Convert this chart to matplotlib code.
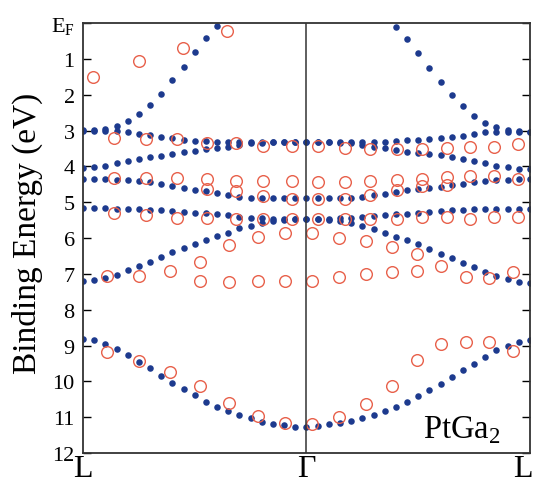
import numpy as np
import matplotlib
matplotlib.use("Agg")
from matplotlib import pyplot as plt
from matplotlib.transforms import ScaledTranslation

plt.rcParams["font.family"] = ["Liberation Serif", "DejaVu Serif"]
plt.rcParams["mathtext.fontset"] = "custom"
plt.rcParams["mathtext.rm"] = "Liberation Serif"

# calculated bands, 41 k-points from L through Gamma to L
k_calc = np.linspace(0.0, 1.0, 41)
nan = np.nan
band1 = [2.99, 2.99, 2.96, 2.87, 2.73, 2.54, 2.29, 1.98, 1.59, 1.23, 0.81, 0.42, 0.08,
         nan, nan, nan, nan, nan, nan, nan, nan, nan, nan, nan, nan, nan, nan, nan,
         0.10, 0.45, 0.84, 1.26, 1.64, 2.00, 2.32, 2.59, 2.80, 2.90, 2.98, 3.02, 3.04]
band2 = [3.00, 3.00, 3.00, 3.00, 3.05, 3.10, 3.13, 3.17, 3.21, 3.26, 3.28, 3.30, 3.31,
         3.32, 3.33, 3.33, 3.33, 3.33, 3.33, 3.33, 3.33, 3.33, 3.33, 3.33, 3.33, 3.33,
         3.33, 3.31, 3.29, 3.27, 3.26, 3.24, 3.22, 3.19, 3.15, 3.10, 3.05, 3.03, 3.04,
         3.05, 3.05]
band3 = [4.06, 4.03, 3.99, 3.92, 3.86, 3.80, 3.75, 3.71, 3.66, 3.61, 3.58, 3.53, 3.50,
         3.45, 3.40, 3.36, 3.34, 3.33, 3.33, 3.33, 3.33, 3.33, 3.33, 3.34, 3.36, 3.40,
         3.45, 3.50, 3.55, 3.60, 3.63, 3.66, 3.69, 3.73, 3.80, 3.86, 3.91, 3.98, 4.03,
         4.08, 4.08]
band4 = [4.34, 4.34, 4.36, 4.37, 4.39, 4.40, 4.45, 4.50, 4.54, 4.61, 4.66, 4.70, 4.75,
         4.80, 4.85, 4.87, 4.88, 4.89, 4.89, 4.89, 4.89, 4.89, 4.89, 4.88, 4.87, 4.85,
         4.80, 4.76, 4.71, 4.67, 4.63, 4.60, 4.57, 4.53, 4.48, 4.43, 4.40, 4.39, 4.38,
         4.36, 4.36]
band5 = [5.15, 5.15, 5.17, 5.18, 5.19, 5.20, 5.21, 5.22, 5.24, 5.27, 5.29, 5.31, 5.34,
         5.36, 5.40, 5.43, 5.45, 5.47, 5.47, 5.47, 5.47, 5.47, 5.46, 5.45, 5.43, 5.41,
         5.39, 5.37, 5.34, 5.32, 5.29, 5.27, 5.24, 5.22, 5.21, 5.20, 5.20, 5.20, 5.20,
         5.20, 5.20]
band6 = [7.20, 7.18, 7.12, 7.03, 6.90, 6.78, 6.67, 6.53, 6.40, 6.28, 6.17, 6.05, 5.94,
         5.85, 5.73, 5.66, 5.57, 5.52, 5.49, 5.47, 5.47, 5.48, 5.50, 5.53, 5.57, 5.66,
         5.75, 5.85, 5.96, 6.06, 6.18, 6.30, 6.45, 6.57, 6.70, 6.82, 6.95, 7.06, 7.15,
         7.22, 7.26]
band7 = [8.83, 8.85, 8.97, 9.10, 9.27, 9.47, 9.64, 9.85, 10.04, 10.22, 10.39, 10.57,
         10.71, 10.83, 10.94, 11.03, 11.13, 11.18, 11.23, 11.27, 11.28, 11.24, 11.20,
         11.17, 11.10, 11.01, 10.94, 10.83, 10.72, 10.58, 10.41, 10.25, 10.07, 9.88,
         9.69, 9.51, 9.31, 9.13, 9.01, 8.90, 8.85]
bands = [band1, band2, band3, band4, band5, band6, band7]

# ARPES peak positions (k along L-Gamma-L, binding energy in eV)
arpes_k = [0.022, 0.125, 0.224, 0.322,
           0.069, 0.141, 0.210, 0.277, 0.342, 0.403, 0.468, 0.526, 0.586, 0.642,
           0.702, 0.758, 0.814, 0.866, 0.919, 0.973,
           0.069, 0.141, 0.210, 0.277, 0.342, 0.403, 0.468, 0.526, 0.586, 0.642,
           0.702, 0.758, 0.814, 0.866, 0.919, 0.973,
           0.277, 0.342, 0.403, 0.468, 0.526, 0.586, 0.642, 0.702, 0.758, 0.814,
           0.069, 0.141, 0.210, 0.277, 0.342, 0.403, 0.468, 0.526, 0.586, 0.642,
           0.702, 0.758, 0.814, 0.866, 0.919, 0.973,
           0.327, 0.391, 0.452, 0.512, 0.573, 0.633, 0.691, 0.747,
           0.054, 0.125, 0.195, 0.262, 0.262, 0.327, 0.391, 0.452, 0.512, 0.573,
           0.633, 0.691, 0.747, 0.801, 0.857, 0.908, 0.962,
           0.054, 0.125, 0.195, 0.262, 0.327, 0.391, 0.452, 0.512, 0.573, 0.633,
           0.691, 0.747, 0.801, 0.857, 0.908, 0.962]
arpes_e = [1.50, 1.06, 0.70, 0.23,
           3.22, 3.24, 3.24, 3.34, 3.36, 3.43, 3.43, 3.44, 3.50, 3.51,
           3.51, 3.51, 3.50, 3.45, 3.45, 3.38,
           4.33, 4.33, 4.33, 4.34, 4.40, 4.40, 4.41, 4.43, 4.43, 4.40,
           4.39, 4.34, 4.29, 4.28, 4.28, 4.34,
           4.63, 4.68, 4.83, 4.90, 4.92, 4.90, 4.79, 4.65, 4.56, 4.52,
           5.31, 5.35, 5.43, 5.44, 5.48, 5.48, 5.47, 5.47, 5.46, 5.47,
           5.46, 5.42, 5.40, 5.46, 5.40, 5.40,
           6.20, 5.97, 5.87, 5.87, 5.99, 6.08, 6.24, 6.45,
           7.06, 7.06, 6.93, 6.66, 7.20, 7.24, 7.20, 7.20, 7.20, 7.10,
           7.01, 6.96, 6.92, 6.78, 7.08, 7.13, 6.96,
           9.17, 9.44, 9.75, 10.14, 10.61, 10.98, 11.15, 11.20, 11.00, 10.64,
           10.14, 9.41, 8.97, 8.91, 8.91, 9.16]

y_ticks = list(range(0, 13))
y_labels = [r"$\mathrm{E_F}$"] + [str(v) for v in range(1, 13)]
x_ticks = [0.0, 0.5, 1.0]
x_labels = ["L", "Γ", "L"]

fig = plt.figure(figsize=(5.34, 4.85), dpi=100)
ax = fig.add_axes([0.1554, 0.0639, 0.8371, 0.8866])

for b in bands:
    ax.plot(k_calc, b, "o", color="#1d3a8e", markersize=4.7, markeredgewidth=0)
ax.plot(arpes_k, arpes_e, "o", markerfacecolor="none", markeredgecolor="#e8604a",
        markersize=8.4, markeredgewidth=1.0)

ax.axvline(0.5, color="#333333", linewidth=1.1)

ax.set_xlim(0, 1)
ax.set_ylim(12, 0)
ax.set_yticks(y_ticks)
ax.set_yticklabels(y_labels, fontsize=16)
ax.set_xticks(x_ticks)
ax.set_xticklabels(x_labels, fontsize=23)
ax.tick_params(axis="x", length=0, pad=0.5)
ax.tick_params(axis="y", direction="in", length=6, width=1, right=True, pad=6)
for s in ax.spines.values():
    s.set_linewidth(1.3)
    s.set_color("#333333")

# nudge the right-hand L inwards so it stays on the canvas
lab = ax.xaxis.get_major_ticks()[2].label1
lab.set_transform(lab.get_transform() + ScaledTranslation(-5 / 72, 0, fig.dpi_scale_trans))

ax.set_ylabel("Binding Energy (eV)", fontsize=24)
ax.yaxis.set_label_coords(-0.09, 0.514)
ax.text(0.935, 11.55, r"PtGa$_2$", fontsize=23.5, ha="right", va="baseline")

fig.savefig("out.png", dpi=100)
